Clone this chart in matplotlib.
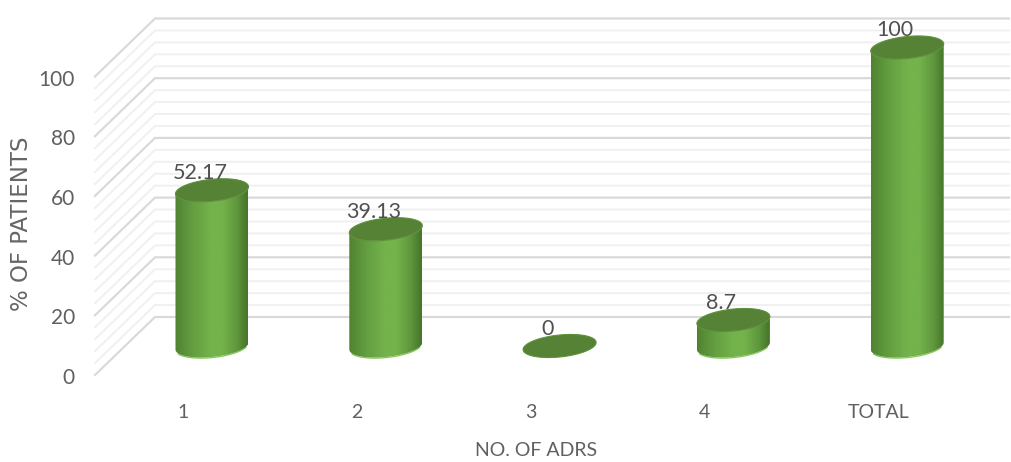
import numpy as np
import matplotlib
matplotlib.use("Agg")
import matplotlib.pyplot as plt
from matplotlib.colors import LinearSegmentedColormap
from matplotlib.patches import Polygon

categories = ["1", "2", "3", "4", "TOTAL"]
values = [52.17, 39.13, 0, 8.7, 100]
value_labels = ["52.17", "39.13", "0", "8.7", "100"]
major_ticks = [0, 20, 40, 60, 80, 100]
minor_ticks = [4, 8, 12, 16, 24, 28, 32, 36, 44, 48, 52, 56, 64, 68, 72, 76, 84, 88, 92, 96]
x_title = "NO. OF ADRS"
y_title = "% OF PATIENTS"

W, H = 1011, 462
plt.rcParams["font.family"] = ["Lato", "DejaVu Sans"]
fig = plt.figure(figsize=(W / 100, H / 100), dpi=100)
ax = fig.add_axes([0, 0, 1, 1])

# Data scales: category index on x, percentage on y; 3-D depth is a pixel offset.
PX_X0, PX_DX = 212.0, 173.8
PX_Y0, PX_DY = 346.0, 2.985
ax.set_xlim(-PX_X0 / PX_DX, (W - PX_X0) / PX_DX)
ax.set_ylim((PX_Y0 - H) / PX_DY, PX_Y0 / PX_DY)
ax.axis("off")
ux, uy = 1 / PX_DX, 1 / PX_DY

DEPTH_Y = 29 * uy
FRONT_X = (95 - PX_X0) * ux
BACK_X = (155 - PX_X0) * ux
RIGHT_X = (1009 - PX_X0) * ux

for v, col, lw in [(v, "#F0F0F0", 1.6) for v in minor_ticks] + [(v, "#D9D9D9", 1.8) for v in major_ticks]:
    ax.plot([FRONT_X, BACK_X, RIGHT_X], [v - DEPTH_Y, v + DEPTH_Y, v + DEPTH_Y],
            color=col, lw=lw * 0.72 * 1.2, solid_joinstyle="miter", zorder=1)

cmap = LinearSegmentedColormap.from_list("cyl", [
    (0.0, "#4F8232"), (0.08, "#568C37"), (0.25, "#649F41"), (0.5, "#74B34B"),
    (0.65, "#74B34B"), (0.85, "#5F973D"), (0.96, "#4C7C2E"), (1.0, "#47752B")])
grad = np.linspace(0, 1, 256).reshape(1, -1)

A, B, K = 36.5, 11.0, 3.5
t = np.linspace(0, 2 * np.pi, 200)


def ellipse_xy(cx, val):
    return cx + A * ux * np.cos(t), val + (B * np.sin(t) + K * np.cos(t)) * uy


for i, (val, lab) in enumerate(zip(values, value_labels)):
    if val > 0:
        xb, yb = ellipse_xy(i, 0)
        lower = np.sin(t) < 0
        order = np.argsort(xb[lower])
        bx, by = xb[lower][order], yb[lower][order]
        body = Polygon(np.c_[np.r_[bx, bx[::-1]], np.r_[by, by[::-1] + val]],
                       closed=True, fc="none", ec="none")
        ax.add_patch(body)
        ax.plot(bx[12:-12], by[12:-12] - 0.2, color="#86C95A", lw=0.9, zorder=2)
        im = ax.imshow(grad, cmap=cmap, aspect="auto", interpolation="bilinear", zorder=3,
                       extent=[i - A * ux, i + A * ux, -15 * uy - 3, val + 15 * uy])
        im.set_clip_path(body)
    xt, yt = ellipse_xy(i, val)
    ax.fill(xt, yt, color="#558235", ec="#5F903C", lw=0.8, zorder=4)
    ax.annotate(lab, (i, val), xytext=(-12 * 0.72, 17 * 0.72), textcoords="offset points",
                ha="center", va="center", fontsize=15.5, color="#505050", zorder=5)

ax.set_xlim(-PX_X0 / PX_DX, (W - PX_X0) / PX_DX)
ax.set_ylim((PX_Y0 - H) / PX_DY, PX_Y0 / PX_DY)

TEXT = "#606060"
for v in major_ticks:
    ax.annotate(str(v), ((75 - PX_X0) * ux, v - DEPTH_Y), xytext=(0, -3 * 0.72),
                textcoords="offset points", ha="right", va="center",
                fontsize=15, color=TEXT)
for i, c in enumerate(categories):
    ax.annotate(c, (i, 0), xytext=(-29 * 0.72, -67 * 0.72), textcoords="offset points",
                ha="center", va="center", fontsize=14, color=TEXT)
ax.text(536 / W, 1 - 451 / H, x_title, transform=ax.transAxes, ha="center", va="center",
        fontsize=14, color=TEXT)
ax.text(22 / W, 1 - 224 / H, y_title, transform=ax.transAxes, ha="center", va="center",
        rotation=90, fontsize=16.5, color="#666666", family=["DejaVu Sans"])

fig.savefig("out.png", dpi=100, facecolor="white")
